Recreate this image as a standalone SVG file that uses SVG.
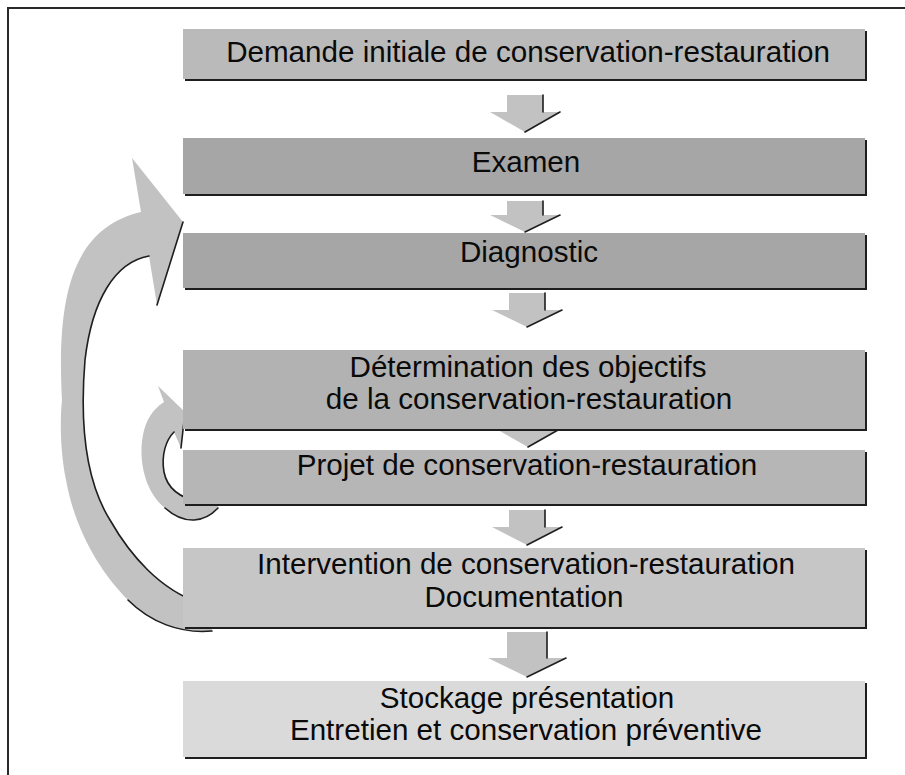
<svg xmlns="http://www.w3.org/2000/svg" width="905" height="775" viewBox="0 0 905 775">
  <style>
    .frame { fill: none; stroke: #2a2a2a; stroke-width: 2; }
    .shadow { fill: #1e1e1e; }
    .label { font-family: "Liberation Sans", Arial, sans-serif; font-size: 29.6px; fill: #0a0a0a; text-anchor: middle; }
    .down { fill: #c2c2c2; }
    .edge { fill: none; stroke: #1e1e1e; stroke-width: 1.6; stroke-linejoin: round; stroke-linecap: round; }
    .loop { fill: #c2c2c2; }
  </style>

  <!-- page frame (left and top rules) -->
  <path class="frame" d="M 8,775 V 8 H 905"/>

  <g id="connectors">
    <!-- long return loop: from intervention back to examen -->
    <g id="loop-long">
      <path class="loop" d="M 212,631 C 180,634 150,622 128,600 C 100,572 75,530 66,480 C 60,450 60,420 62,400 C 56,290 75,228 141,212 L 132,158 L 183,222 L 157,305 L 149,256 C 115,262 92,300 85,360 C 80,420 85,480 110,520 C 130,555 160,590 200,603 L 212,603 Z"/>
      <path class="edge" d="M 183,222 L 157,305"/>
      <path class="edge" d="M 149,256 C 115,262 92,300 85,360 C 80,420 85,480 110,520 C 130,555 160,590 200,603"/>
      <path class="edge" d="M 128,600 C 150,622 180,634 212,631"/>
    </g>
    <!-- short return loop: from projet back to objectifs -->
    <g id="loop-short">
      <path class="loop" d="M 218,508 C 205,522 185,526 165,508 C 145,492 138,460 143,435 C 146,420 152,410 164,402 L 158,386 L 185,412 L 181,448 L 174,432 C 166,440 161,455 164,472 C 167,488 180,498 200,502 L 218,502 Z"/>
      <path class="edge" d="M 185,412 L 181,448"/>
      <path class="edge" d="M 174,432 C 166,440 161,455 164,472 C 167,488 180,498 200,502"/>
      <path class="edge" d="M 165,508 C 185,526 205,522 218,508"/>
    </g>

    <!-- block arrows between steps -->
    <g id="arrow-1">
      <path class="down" d="M 507,95 H 543 V 112 H 560 L 525,132 L 490,112 H 507 Z"/>
      <path class="edge" d="M 543,95 V 112 M 560,112 L 525,132"/>
    </g>
    <g id="arrow-2">
      <path class="down" d="M 507,201 H 543 V 215 H 560 L 525,232 L 490,215 H 507 Z"/>
      <path class="edge" d="M 543,201 V 215 M 560,215 L 525,232"/>
    </g>
    <g id="arrow-3">
      <path class="down" d="M 509,293 H 545 V 310 H 562 L 527,327 L 492,310 H 509 Z"/>
      <path class="edge" d="M 545,293 V 310 M 562,310 L 527,327"/>
    </g>
    <g id="arrow-4">
      <path class="down" d="M 510,415 H 546 V 430 H 558 L 528,447 L 498,430 H 510 Z"/>
      <path class="edge" d="M 558,430 L 528,447"/>
    </g>
    <g id="arrow-5">
      <path class="down" d="M 509,510 H 545 V 527 H 562 L 527,545 L 492,527 H 509 Z"/>
      <path class="edge" d="M 545,510 V 527 M 562,527 L 527,545"/>
    </g>
    <g id="arrow-6">
      <path class="down" d="M 507,632 H 547 V 658 H 566 L 527,677 L 488,658 H 507 Z"/>
      <path class="edge" d="M 547,632 V 658 M 566,658 L 527,677"/>
    </g>
  </g>

  <g id="step-demande">
    <rect class="shadow" x="185" y="31" width="682" height="50"/>
    <rect x="183" y="29" width="682" height="50" fill="#bababa"/>
    <text class="label" x="528" y="62">Demande initiale de conservation-restauration</text>
  </g>

  <g id="step-examen">
    <rect class="shadow" x="185" y="140" width="682" height="56"/>
    <rect x="183" y="138" width="682" height="56" fill="#a6a6a6"/>
    <text class="label" x="526" y="172">Examen</text>
  </g>

  <g id="step-diagnostic">
    <rect class="shadow" x="185" y="235" width="682" height="55"/>
    <rect x="183" y="233" width="682" height="55" fill="#a6a6a6"/>
    <text class="label" x="529" y="262">Diagnostic</text>
  </g>

  <g id="step-objectifs">
    <rect class="shadow" x="185" y="352" width="682" height="79"/>
    <rect x="183" y="350" width="682" height="79" fill="#b2b2b2"/>
    <text class="label" x="528" y="377">Détermination des objectifs</text>
    <text class="label" x="529" y="409">de la conservation-restauration</text>
  </g>

  <g id="step-projet">
    <rect class="shadow" x="185" y="452" width="682" height="54"/>
    <rect x="183" y="450" width="682" height="54" fill="#b6b6b6"/>
    <text class="label" x="527" y="475">Projet de conservation-restauration</text>
  </g>

  <g id="step-intervention">
    <rect class="shadow" x="185" y="550" width="682" height="79"/>
    <rect x="183" y="548" width="682" height="79" fill="#c6c6c6"/>
    <text class="label" x="526" y="574">Intervention de conservation-restauration</text>
    <text class="label" x="524" y="607">Documentation</text>
  </g>

  <g id="step-stockage">
    <rect class="shadow" x="185" y="683" width="682" height="76"/>
    <rect x="183" y="681" width="682" height="76" fill="#dadada"/>
    <text class="label" x="527" y="708">Stockage présentation</text>
    <text class="label" x="526" y="740">Entretien et conservation préventive</text>
  </g>
</svg>
